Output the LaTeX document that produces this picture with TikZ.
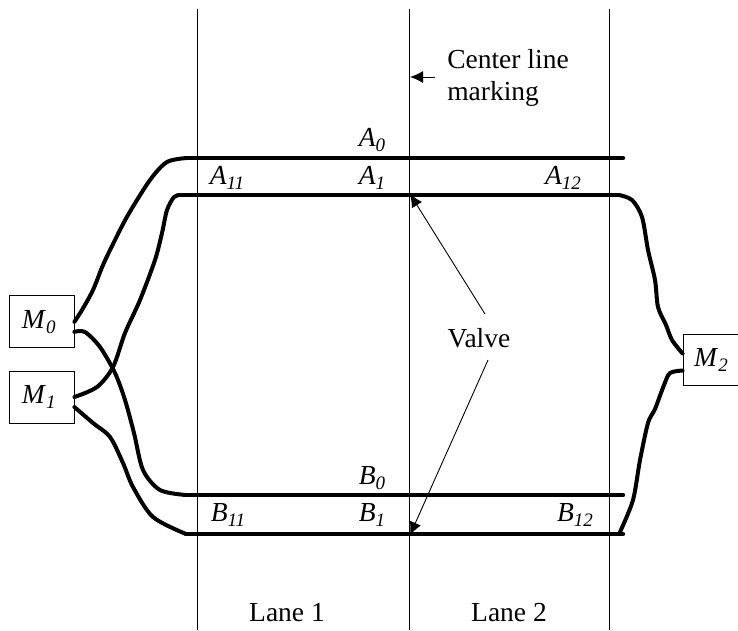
\documentclass[tikz,border=0pt]{standalone}
\usepackage{fontspec}
\setmainfont{Liberation Serif}
\usetikzlibrary{arrows.meta,positioning}
\newcommand{\lbl}[2]{\textit{#1}\raisebox{-5pt}{\fontsize{19}{19}\selectfont\textit{#2}}}
\tikzset{
  module/.style={draw=black,line width=0.9pt,fill=white,minimum width=64.5pt,minimum height=52pt,inner sep=0pt,font=\fontsize{27.5}{32}\selectfont},
  lbltext/.style={inner sep=0pt,align=left,font=\fontsize{27.5}{32}\selectfont},
  lane/.style={draw=black,line width=1pt},
  bus/.style={draw=black,line width=4.4pt,line cap=round},
  wire/.style={draw=black,line width=4pt,line cap=round,line join=round},
  arr/.style={-{Latex[length=13pt,width=12pt]},draw=black,line width=0.9pt}
}
\begin{document}
\begin{tikzpicture}[x=1pt,y=-1pt]
    \useasboundingbox (0,0) rectangle (738,630);
    \foreach \name/\xpos in {west/197,mid/409.5,east/609}{
      \coordinate (\name top) at (\xpos,9);
      \coordinate (\name bot) at (\xpos,630);
      \draw[lane] (\name top) -- (\name bot);
    }
    \coordinate (A0w) at (187,158);
    \coordinate (A0e) at (623,158);
    \coordinate (A1w) at (180,195);
    \coordinate (A1e) at (619,195);
    \coordinate (B0w) at (186,495);
    \coordinate (B0e) at (623,495);
    \coordinate (B1w) at (186,534);
    \coordinate (B1e) at (623,534);
    \draw[bus] (A0w) -- (A0e);
    \draw[bus] (A1w) -- (A1e);
    \draw[bus] (B0w) -- (B0e);
    \draw[bus] (B1w) -- (B1e);
    \node[module] (M0) at (41.7,321.8) {\lbl{M}{0}\kern6pt};
    \node[module] (M1) at (41.7,397) {\lbl{M}{1}\kern6pt};
    \node[module,minimum width=60pt,minimum height=51pt] (M2) at (713,359.5) {\lbl{M}{2}\kern4pt};
    \draw[wire] plot[smooth,tension=0.5] coordinates {(M0.east) (82,310) (93,290) (103,265) (115,240) (128,215) (150,180) (167,162) (A0w)};
    \draw[wire] plot[smooth,tension=0.5] coordinates {([yshift=-10pt]M0.east) (85,332) (100,347) (115,373) (125,400) (134,433) (143,470) (160,490) (B0w)};
    \draw[wire] plot[smooth,tension=0.5] coordinates {(M1.east) (97,387) (113,367) (125,333) (140,300) (155,260) (162,233) (167,210) (174,197) (A1w)};
    \draw[wire] plot[smooth,tension=0.5] coordinates {([yshift=-10pt]M1.east) (93,423) (110,437) (123,463) (133,487) (153,517) (B1w)};
    \draw[wire] plot[smooth,tension=0.5] coordinates {(A1e) (632,200) (642,217) (648,250) (655,280) (658,307) (666,325) (672,340) ([yshift=6pt]M2.west)};
    \draw[wire] plot[smooth,tension=0.5] coordinates {(620,532) (633,500) (640,460) (648,423) (655,409) (664,385) (670,373) ([yshift=-11pt]M2.west)};
    \node[lbltext] (a0) at (372,140) {\lbl{A}{0}};
    \node[lbltext] (a1) at (372,178) {\lbl{A}{1}};
    \node[lbltext] (a11) at (227,178) {\lbl{A}{11}};
    \node[lbltext] (a12) at (563,178) {\lbl{A}{12}};
    \node[lbltext] (b0) at (372,478) {\lbl{B}{0}};
    \node[lbltext] (b1) at (372,515) {\lbl{B}{1}};
    \node[lbltext] (b11) at (228,515) {\lbl{B}{11}};
    \node[lbltext] (b12) at (575,515) {\lbl{B}{12}};
    \node[lbltext] (marking) at (508,78) {Center line\\marking};
    \node[lbltext] (valve) at (479,338) {Valve};
    \node[lbltext] (lane1) at (287,613) {Lane 1};
    \node[lbltext] (lane2) at (509,613) {Lane 2};
    \coordinate (marktail) at (435,77);
    \coordinate (marktip) at (410,77);
    \coordinate (valvetop) at (485,314);
    \coordinate (valvetiptop) at (410,194);
    \coordinate (valvebot) at (488,360);
    \coordinate (valvetipbot) at (410,535);
    \draw[arr] (marktail) -- (marktip);
    \draw[arr] (valvetop) -- (valvetiptop);
    \draw[arr] (valvebot) -- (valvetipbot);
  \end{tikzpicture}
\end{document}
